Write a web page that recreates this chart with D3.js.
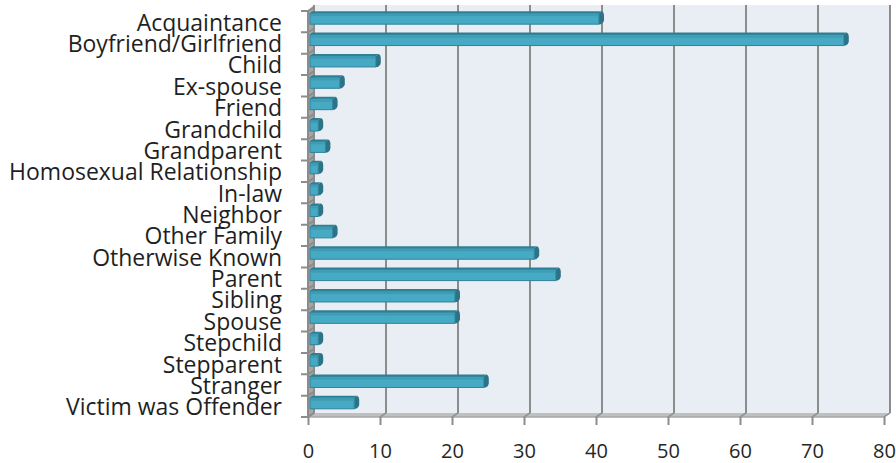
<!DOCTYPE html>
<html><head><meta charset="utf-8">
<script src="https://cdn.jsdelivr.net/npm/d3@7/dist/d3.min.js"></script>
<style>body{margin:0;background:#fff}svg{display:block}</style>
</head><body><svg id="c" width="896" height="463"></svg>
<script>
const categories = ["Acquaintance","Boyfriend/Girlfriend","Child","Ex-spouse","Friend","Grandchild","Grandparent","Homosexual Relationship","In-law","Neighbor","Other Family","Otherwise Known","Parent","Sibling","Spouse","Stepchild","Stepparent","Stranger","Victim was Offender"];
const values = [40,74,9,4,3,1,2,1,1,1,3,31,34,20,20,1,1,24,6];
const xTicks = [0,10,20,30,40,50,60,70,80];

const svg = d3.select("#c");
const font = "'Open Sans', sans-serif";
const DX = 6, DY = -4;           // 3D depth offset (back wall vs front)
const x = d3.scaleLinear().domain([0,80]).range([308,884]);
const y = d3.scaleBand().domain(categories).range([11,417]);
const floorY = 417, topY = 11;

// back wall
svg.append("rect").attr("x",x(0)+DX).attr("y",topY+DY-2).attr("width",x(80)-x(0)).attr("height",floorY-topY+2)
  .attr("fill","#e9eef5");
// left side wall
svg.append("path").attr("d",`M${x(0)},${topY}L${x(0)+DX},${topY+DY-2}L${x(0)+DX},${floorY+DY}L${x(0)},${floorY}Z`).attr("fill","#a6a6a6");
// floor
svg.append("path").attr("d",`M${x(0)},${floorY}L${x(0)+DX},${floorY+DY}L${x(80)+DX},${floorY+DY}L${x(80)},${floorY}Z`).attr("fill","#bfbfbf");
svg.append("line").attr("x1",x(0)).attr("x2",x(80)).attr("y1",floorY).attr("y2",floorY).attr("stroke","#a6a6a6").attr("stroke-width",1.5);

// gridlines on back wall + floor diagonals
xTicks.forEach(t=>{
  svg.append("line").attr("x1",x(t)+DX).attr("x2",x(t)+DX).attr("y1",topY+DY-2).attr("y2",floorY+DY)
    .attr("stroke","#8c8c8c").attr("stroke-width",2);
  svg.append("line").attr("x1",x(t)).attr("x2",x(t)+DX).attr("y1",floorY).attr("y2",floorY+DY)
    .attr("stroke","#8c8c8c").attr("stroke-width",1.5);
});

// bottom axis
const xa = svg.append("g").attr("transform",`translate(0,${floorY})`)
  .call(d3.axisBottom(x).tickValues(xTicks).tickSize(8).tickPadding(19).tickFormat(d3.format("d")));
xa.select(".domain").remove();
xa.selectAll("line").attr("stroke","#8c8c8c").attr("stroke-width",2);
xa.selectAll("text").attr("font-family",font).attr("font-size",20).attr("fill","#262626");

// left axis ticks
const ya = svg.append("g");
const edges = categories.map(c=>y(c)).concat([y.range()[1]]);
edges.forEach(e=>{
  ya.append("path").attr("d",`M${x(0)-7},${e}L${x(0)},${e}L${x(0)+DX},${e+DY}`).attr("fill","none")
    .attr("stroke","#8c8c8c").attr("stroke-width",2);
});
svg.append("line").attr("x1",x(0)).attr("x2",x(0)).attr("y1",topY).attr("y2",floorY).attr("stroke","#8c8c8c").attr("stroke-width",2);

// bars
const bw = 11;
const bars = svg.append("g");
categories.forEach((c,i)=>{
  const v = values[i];
  const yc = y(c) + y.bandwidth()/2 - 3;
  const y0 = yc - bw/2, x0 = x(0)+2, x1 = x(v)+DX-3;
  const g = bars.append("g");
  // top face
  g.append("path").attr("d",`M${x0},${y0}L${x0+2},${y0-2}L${x1+3},${y0-2}L${x1},${y0}Z`).attr("fill","#2f7f94");
  // right cap
  g.append("path").attr("d",`M${x1},${y0}L${x1+3},${y0-2}Q${x1+5},${y0-1} ${x1+5},${y0+2}L${x1+5},${y0+bw-4}Q${x1+5},${y0+bw-2} ${x1+2},${y0+bw}L${x1},${y0+bw}Z`).attr("fill","#2b7386");
  // front face
  g.append("rect").attr("x",x0).attr("y",y0).attr("width",Math.max(1,x1-x0)).attr("height",bw)
    .attr("fill","#47aac4").attr("stroke","#2f8399").attr("stroke-width",1);
  g.append("rect").attr("x",x0+1).attr("y",y0+1).attr("width",Math.max(0,x1-x0-2)).attr("height",2).attr("fill","#3e9bb3");
});

// category labels
const lab = svg.append("g");
categories.forEach(c=>{
  lab.append("text").attr("x",282).attr("y",y(c)+y.bandwidth()/2+9).attr("text-anchor","end")
    .attr("font-family",font).attr("font-size",21).attr("fill","#1f1f1f").text(c);
});
// fit font size so longest label spans like reference
const widest = d3.max(lab.selectAll("text").nodes(), n=>n.getComputedTextLength());
const fs = 21*273/widest;
lab.selectAll("text").attr("font-size",fs);
</script></body></html>
